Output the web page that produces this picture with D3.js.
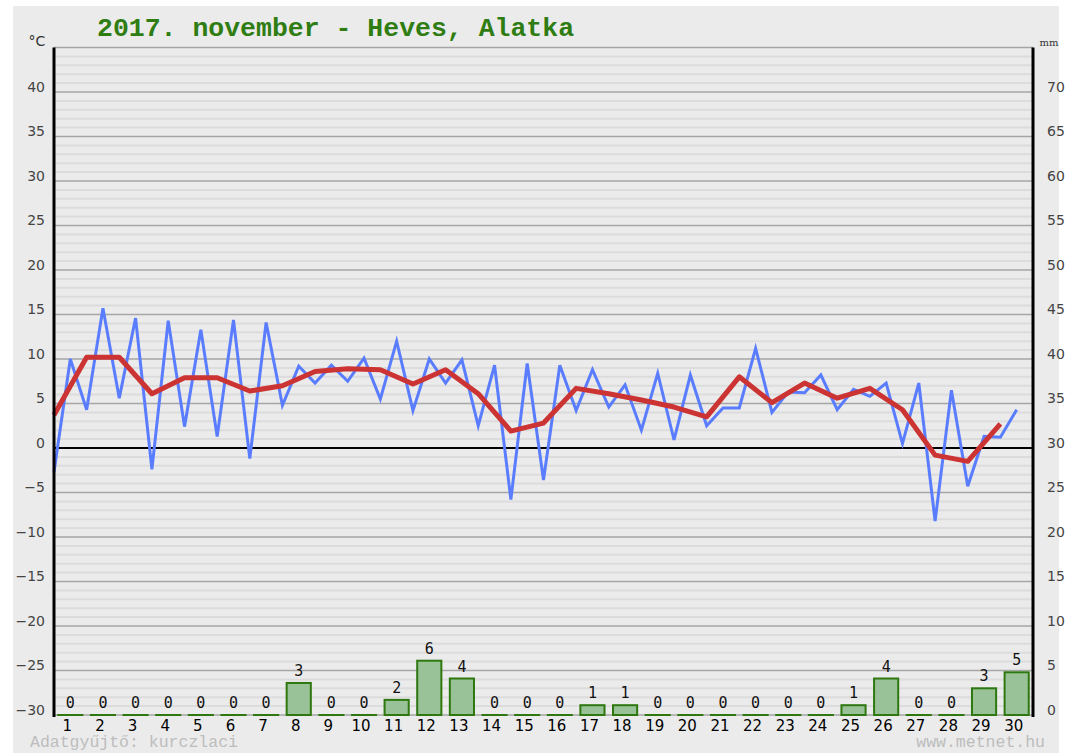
<!DOCTYPE html>
<html>
<head>
<meta charset="utf-8">
<script src="https://cdn.jsdelivr.net/npm/d3@7"></script>
<style>
  body { margin: 0; background: #fff; }
  svg { display: block; }
  .tick text { font-family: "DejaVu Sans", Verdana, sans-serif; }
</style>
</head>
<body>
<svg id="chart" width="1071" height="753"></svg>
<script>
// Title and footer
const title = '2017. november - Heves, Alatka';
const creditLeft = 'Adatgyűjtő: kurczlaci';
const creditRight = 'www.metnet.hu';

// Days of the month
const days = d3.range(1, 31);

// Temperature (°C), two readings per day (night low, day high)
const tempHalfDay = [
  -2.7, 10.0, 4.3, 15.7, 5.6, 14.6, -2.4, 14.3, 2.4, 13.3,
  1.3, 14.4, -1.2, 14.1, 4.8, 9.2, 7.3, 9.3, 7.5, 10.1,
  5.5, 12.0, 4.2, 10.0, 7.3, 9.9, 2.5, 9.3, -5.8, 9.5,
  -3.6, 9.3, 4.2, 8.8, 4.6, 7.1, 2.0, 8.4, 0.9, 8.2,
  2.5, 4.5, 4.5, 11.2, 4.0, 6.3, 6.2, 8.2, 4.3, 6.6,
  5.8, 7.3, 0.5, 7.3, -8.2, 6.5, -4.3, 1.3, 1.2, 4.3
];

// Daily mean temperature (°C)
const tempMean = [
  3.7, 10.2, 10.2, 6.1, 7.9, 7.9, 6.4, 7.0, 8.6, 8.9,
  8.8, 7.2, 8.8, 6.1, 1.9, 2.8, 6.7, 6.1, 5.4, 4.6,
  3.5, 8.0, 5.1, 7.3, 5.6, 6.7, 4.3, -0.8, -1.5, 2.7
];

// Precipitation (mm) and the labels printed above the bars
const precip = [
  0, 0, 0, 0, 0, 0, 0, 3.6, 0, 0,
  1.7, 6.1, 4.1, 0, 0, 0, 1.1, 1.1, 0, 0,
  0, 0, 0, 0, 1.1, 4.1, 0, 0, 3.0, 4.8
];
const precipLabels = [
  0, 0, 0, 0, 0, 0, 0, 3, 0, 0,
  2, 6, 4, 0, 0, 0, 1, 1, 0, 0,
  0, 0, 0, 0, 1, 4, 0, 0, 3, 5
];

// Axis ticks
const tempTicks = d3.range(-30, 41, 5);
const mmTicks = d3.range(0, 71, 5);

const svg = d3.select('#chart');

const plotLeft = 54, plotRight = 1033, plotTop = 47.5, plotBottom = 715;

const x = d3.scaleLinear().domain([0, 30]).range([plotLeft, plotRight]);
const band = d3.scaleBand().domain(days).range([plotLeft, plotRight]).paddingInner(0.26).paddingOuter(0.13);
const y = d3.scaleLinear().domain([-30, 45]).range([plotBottom, plotTop]);
const yMM = d3.scaleLinear().domain([0, 75]).range([plotBottom, plotTop]);

// Background panel
svg.append('rect')
  .attr('x', 13).attr('y', 6)
  .attr('width', 1046).attr('height', 747)
  .attr('fill', '#ebebeb');

// Title
svg.append('text')
  .attr('x', 97).attr('y', 36)
  .attr('font-family', '"Liberation Mono", "Courier New", monospace')
  .attr('font-weight', 'bold')
  .attr('font-size', 26.5)
  .attr('fill', '#2f7d12')
  .text(title);

// Grid lines
const grid = svg.append('g');
const minor = d3.range(-29, 45).filter(v => v % 5 !== 0);
grid.selectAll('line.minor')
  .data(minor)
  .join('line')
  .attr('class', 'minor')
  .attr('x1', plotLeft).attr('x2', plotRight)
  .attr('y1', d => y(d)).attr('y2', d => y(d))
  .attr('stroke', '#dcdcdc')
  .attr('stroke-width', 2);

grid.selectAll('line.major')
  .data(d3.range(-30, 46, 5).filter(v => v !== 0))
  .join('line')
  .attr('class', 'major')
  .attr('x1', plotLeft).attr('x2', plotRight)
  .attr('y1', d => y(d)).attr('y2', d => y(d))
  .attr('stroke', '#a6a6a6')
  .attr('stroke-width', 1.6);

grid.append('line')
  .attr('x1', plotLeft).attr('x2', plotRight)
  .attr('y1', y(0)).attr('y2', y(0))
  .attr('stroke', '#000')
  .attr('stroke-width', 1.8);

// Precipitation bars
svg.append('g')
  .selectAll('rect')
  .data(days)
  .join('rect')
  .attr('x', d => band(d))
  .attr('width', band.bandwidth())
  .attr('y', d => yMM(precip[d - 1]))
  .attr('height', d => Math.max(0.01, plotBottom - yMM(precip[d - 1])))
  .attr('fill', '#99c299')
  .attr('stroke', '#2e780f')
  .attr('stroke-width', 2);

svg.append('g')
  .selectAll('text')
  .data(days)
  .join('text')
  .attr('x', d => band(d) + band.bandwidth() / 2)
  .attr('y', d => yMM(precip[d - 1]) - 7)
  .attr('text-anchor', 'middle')
  .attr('font-family', '"DejaVu Sans Mono", monospace')
  .attr('font-size', 15)
  .attr('fill', '#111')
  .text(d => precipLabels[d - 1]);

// Temperature lines
const halfLine = d3.line()
  .x((d, i) => x(i / 2))
  .y(d => y(d));

svg.append('path')
  .datum(tempHalfDay)
  .attr('d', halfLine)
  .attr('fill', 'none')
  .attr('stroke', '#5a7dff')
  .attr('stroke-width', 3)
  .attr('stroke-linejoin', 'miter');

const meanLine = d3.line()
  .x((d, i) => x(i))
  .y(d => y(d));

svg.append('path')
  .datum(tempMean)
  .attr('d', meanLine)
  .attr('fill', 'none')
  .attr('stroke', '#cc3333')
  .attr('stroke-width', 5)
  .attr('stroke-linejoin', 'round');

// Frame
svg.append('line')
  .attr('x1', plotLeft).attr('x2', plotLeft)
  .attr('y1', plotTop).attr('y2', plotBottom + 2)
  .attr('stroke', '#000').attr('stroke-width', 3);
svg.append('line')
  .attr('x1', plotRight).attr('x2', plotRight)
  .attr('y1', plotTop).attr('y2', plotBottom + 2)
  .attr('stroke', '#000').attr('stroke-width', 3);

// Left axis (°C)
const axL = svg.append('g')
  .attr('transform', `translate(${plotLeft - 2},0)`)
  .call(d3.axisLeft(y).tickValues(tempTicks).tickSize(0).tickPadding(7));
axL.select('.domain').remove();
axL.selectAll('text')
  .attr('font-size', 14)
  .attr('fill', '#444')
  .attr('dy', '-0.05em');

// Right axis (mm)
const axR = svg.append('g')
  .attr('transform', `translate(${plotRight + 2},0)`)
  .call(d3.axisRight(yMM).tickValues(mmTicks).tickSize(0).tickPadding(12));
axR.select('.domain').remove();
axR.selectAll('text')
  .attr('font-size', 14)
  .attr('fill', '#444')
  .attr('dy', '-0.05em');

// Unit labels
svg.append('text')
  .attr('x', 37).attr('y', 46)
  .attr('text-anchor', 'middle')
  .attr('font-family', '"DejaVu Sans", sans-serif')
  .attr('font-size', 14)
  .attr('fill', '#333')
  .text('°C');
svg.append('text')
  .attr('x', 1049).attr('y', 46)
  .attr('text-anchor', 'middle')
  .attr('font-family', '"DejaVu Serif", serif')
  .attr('font-size', 10)
  .attr('fill', '#333')
  .text('mm');

// Day labels
svg.append('g')
  .selectAll('text')
  .data(days)
  .join('text')
  .attr('x', d => band(d) + band.bandwidth() / 2 - 3)
  .attr('y', 731)
  .attr('text-anchor', 'middle')
  .attr('font-family', '"DejaVu Sans", sans-serif')
  .attr('font-size', 15)
  .attr('fill', '#000')
  .text(d => d);

// Footer credits
svg.append('text')
  .attr('x', 30).attr('y', 747)
  .attr('font-family', '"Liberation Mono", "Courier New", monospace')
  .attr('font-size', 16.5)
  .attr('fill', '#bdbdbd')
  .text(creditLeft);
svg.append('text')
  .attr('x', 1045).attr('y', 747)
  .attr('text-anchor', 'end')
  .attr('font-family', '"Liberation Mono", "Courier New", monospace')
  .attr('font-size', 16.5)
  .attr('fill', '#bdbdbd')
  .text(creditRight);
</script>
</body>
</html>
